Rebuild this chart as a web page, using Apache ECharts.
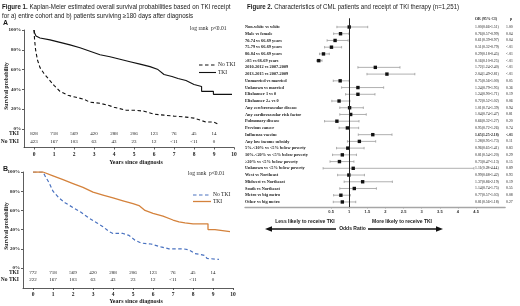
<!DOCTYPE html>
<html>
<head>
<meta charset="utf-8">
<script src="https://cdn.jsdelivr.net/npm/echarts@6/dist/echarts.min.js"></script>
<style>
html, body { margin: 0; padding: 0; background: #fff; }
#chart { width: 520px; height: 306px; }
</style>
</head>
<body>
<div id="chart"></div>
<script>
// ---- Figure 1 data (Kaplan-Meier) ----
const yearTicks = [0, 1, 2, 3, 4, 5, 6, 7, 8, 9, 10];
const riskYears = [0, 1, 2, 3, 4, 5, 6, 7, 8, 9];
const pctTicks = [0, 0.2, 0.4, 0.6, 0.8, 1];

const kmTkiA = [[0, 1], [0.03, 0.97], [0.1, 0.94], [0.3, 0.92], [0.8, 0.9], [1.3, 0.875], [1.8, 0.85], [2.3, 0.82], [2.8, 0.785], [3.3, 0.75], [3.8, 0.73], [4.3, 0.705], [4.8, 0.68], [5.3, 0.655], [5.8, 0.63], [6.2, 0.6], [6.5, 0.55], [6.9, 0.53], [7.2, 0.51], [7.6, 0.49], [7.8, 0.47], [8.0, 0.45], [8.1, 0.43], [8.38, 0.43], [8.38, 0.38], [8.97, 0.38], [8.97, 0.35], [9.9, 0.35]];
const kmNoTkiA = [[0, 1], [0.03, 0.9], [0.08, 0.8], [0.17, 0.7], [0.3, 0.62], [0.5, 0.56], [0.75, 0.5], [1.0, 0.44], [1.3, 0.38], [1.7, 0.34], [2.1, 0.32], [2.5, 0.3], [2.8, 0.27], [3.3, 0.26], [3.7, 0.24], [4.0, 0.22], [4.6, 0.19], [5.0, 0.19], [5.5, 0.18], [6.0, 0.15], [6.5, 0.14], [7.0, 0.13], [7.6, 0.12], [8.0, 0.11], [8.3, 0.09], [8.6, 0.07], [9.0, 0.07], [9.2, 0.05]];
const kmTkiB = [[0, 1], [0.5, 1], [0.6, 0.99], [1.0, 0.96], [1.5, 0.92], [2.0, 0.88], [2.5, 0.84], [3.0, 0.79], [3.5, 0.76], [4.0, 0.73], [4.5, 0.7], [5.0, 0.67], [5.3, 0.65], [5.6, 0.6], [6.0, 0.57], [6.5, 0.54], [7.0, 0.5], [7.3, 0.48], [7.6, 0.47], [8.0, 0.46], [8.75, 0.46], [8.75, 0.4], [9.1, 0.4], [9.1, 0.38], [9.85, 0.38]];
const kmNoTkiB = [[0, 1], [0.5, 1], [0.6, 0.96], [0.8, 0.89], [1.0, 0.8], [1.3, 0.73], [1.6, 0.68], [2.0, 0.63], [2.4, 0.58], [2.8, 0.52], [3.2, 0.47], [3.5, 0.43], [3.8, 0.38], [4.0, 0.36], [4.5, 0.36], [4.8, 0.34], [5.1, 0.29], [5.4, 0.26], [5.9, 0.25], [6.4, 0.22], [6.8, 0.2], [7.5, 0.2], [7.8, 0.19], [8.1, 0.15], [8.4, 0.14], [8.6, 0.13], [8.7, 0.1], [9.3, 0.09]];

const riskTkiA = ['828', '718', '569', '420', '288', '206', '123', '76', '45', '14'];
const riskNoTkiA = ['423', '167', '103', '63', '43', '23', '12', '<11', '<11', '0'];
const riskTkiB = ['772', '718', '569', '420', '288', '206', '123', '76', '45', '14'];
const riskNoTkiB = ['222', '167', '103', '63', '43', '23', '12', '<11', '<11', '0'];

// ---- Figure 2 data (forest plot) ----
const rowLabels = [
  'Non-white vs white', 'Male vs female', '70-74 vs 66-69 years', '75-79 vs 66-69 years',
  '80-84 vs 66-69 years', '\u226585 vs 66-69 years', '2010-2012 vs 2007-2009', '2013-2015 vs 2007-2009',
  'Unmarried vs married', 'Unknown vs married', 'Elixhauser 1 vs 0', 'Elixhauser 2+ vs 0',
  'Any cerebrovascular disease', 'Any cardiovascular risk factor', 'Pulmonary disease', 'Previous cancer',
  'Influenza vaccine', 'Any low income subsidy', '5%-<10% vs <5% below poverty', '10%-<20% vs <5% below poverty',
  '\u226520% vs <5% below poverty', 'Unknown vs <5% below poverty', 'West vs Northeast', 'Midwest vs Northeast',
  'South vs Northeast', 'Metro vs big metro', 'Other vs big metro'
];
const orVals = [1.00, 0.76, 0.61, 0.51, 0.29, 0.16, 1.72, 2.04, 0.75, 1.24, 1.24, 0.72, 1.01, 1.04, 0.66, 0.95, 1.65, 1.28, 0.96, 0.81, 0.73, 1.11, 0.99, 1.37, 1.14, 0.77, 0.81];
const ciLow = [0.66, 0.57, 0.39, 0.32, 0.18, 0.10, 1.24, 1.49, 0.56, 0.79, 0.90, 0.52, 0.74, 0.74, 0.32, 0.72, 1.25, 0.95, 0.65, 0.54, 0.47, 0.28, 0.68, 0.86, 0.74, 0.57, 0.56];
const ciHigh = [1.51, 0.99, 0.97, 0.79, 0.45, 0.25, 2.40, 2.81, 1.00, 1.95, 1.71, 1.02, 1.39, 1.47, 1.27, 1.26, 2.18, 1.73, 1.41, 1.20, 1.13, 4.44, 1.42, 2.19, 1.75, 1.03, 1.18];
const pVals = ['1.00', '0.04', '0.04', '<.01', '<.01', '<.01', '<.01', '<.01', '0.05', '0.36', '0.19', '0.06', '0.94', '0.81', '0.20', '0.74', '<.01', '0.11', '0.83', '0.29', '0.15', '0.89', '0.93', '0.19', '0.55', '0.08', '0.27'];
const orTicks = [0.5, 1, 1.5, 2, 2.5, 3, 3.5, 4, 4.5];
const boldRow = 17;

const serif = 'Liberation Serif';
const sans = 'Liberation Sans';
const ink = '#1a1a1a';

const chart = echarts.init(document.getElementById('chart'), null, { renderer: 'canvas' });

const fmt2 = (v) => v.toFixed(2);

function kmXAxis(grid) {
  return {
    gridIndex: grid, type: 'value', min: -0.5, max: 10,
    axisLine: { onZero: false, lineStyle: { color: '#333', width: 0.8 } },
    axisTick: { customValues: yearTicks, length: 2, lineStyle: { color: '#333', width: 0.8 } },
    axisLabel: { customValues: yearTicks, fontFamily: serif, fontWeight: 'bold', fontSize: 5.5, color: ink, margin: 4 },
    splitLine: { show: false }
  };
}
function kmYAxis(grid, min) {
  return {
    gridIndex: grid, type: 'value', min: min, max: 1,
    axisLine: { onZero: false, lineStyle: { color: '#333', width: 0.8 } },
    axisTick: { customValues: pctTicks, length: 2, lineStyle: { color: '#333', width: 0.8 } },
    axisLabel: {
      customValues: pctTicks, fontFamily: serif, fontWeight: 'bold', fontSize: 5, color: ink, margin: 3,
      formatter: (v) => Math.round(v * 100) + '%'
    },
    splitLine: { show: false }
  };
}

// text placed at data coordinates
function textSeries(axisIdx, rowY, texts, bold) {
  return {
    type: 'custom', xAxisIndex: axisIdx, yAxisIndex: axisIdx, clip: false,
    data: riskYears.map((yr, i) => [yr, rowY, i]),
    renderItem: (params, api) => {
      const p = api.coord([api.value(0), api.value(1)]);
      return {
        type: 'text', x: p[0], y: p[1],
        style: {
          text: texts[api.value(2)], font: (bold ? 'bold ' : '') + '5px ' + serif, fill: ink,
          align: 'center', verticalAlign: 'middle', textAlign: 'center', textVerticalAlign: 'middle'
        }
      };
    }
  };
}

function txt(x, y, text, font, align, extra) {
  return Object.assign({
    type: 'text', x: x, y: y, silent: true,
    style: { text: text, font: font, fill: ink, align: align || 'left', verticalAlign: 'middle', textAlign: align || 'left', textVerticalAlign: 'middle' }
  }, extra || {});
}
function richTitle(x, y, bold, rest, sx) {
  return {
    type: 'text', x: x, y: y, silent: true, scaleX: sx,
    style: {
      text: '{b|' + bold + '} ' + rest, font: '6.5px ' + sans, fill: ink,
      align: 'left', verticalAlign: 'middle', textAlign: 'left', textVerticalAlign: 'middle',
      rich: { b: { fontWeight: 'bold', fontSize: 6.5, fontFamily: sans, fill: ink } }
    }
  };
}
function seg(x1, y1, x2, y2, color, w, dash) {
  return { type: 'line', silent: true, shape: { x1, y1, x2, y2 }, style: { stroke: color, lineWidth: w, lineDash: dash || null } };
}

const orange = '#d4823c';
const blue = '#4a72c0';

const option = {
  animation: false,
  backgroundColor: '#fff',
  grid: [
    { left: 24, top: 30, width: 210, height: 117.5 },
    { left: 23, top: 172, width: 210, height: 116 },
    { left: 245, top: 18.25, width: 260.1, height: 188.75 }
  ],
  xAxis: [
    kmXAxis(0),
    kmXAxis(1),
    {
      gridIndex: 2, type: 'value', min: -1.875, max: 5.3,
      axisLine: { onZero: false, lineStyle: { color: '#a6a6a6', width: 1.4 } },
      axisTick: { customValues: orTicks, length: 1.5, lineStyle: { color: '#a6a6a6' } },
      axisLabel: { customValues: orTicks, fontFamily: sans, fontWeight: 'bold', fontSize: 4, color: '#333', margin: 3 },
      splitLine: { show: false }
    }
  ],
  yAxis: [
    kmYAxis(0, -0.187),
    kmYAxis(1, -0.208),
    {
      gridIndex: 2, type: 'value', inverse: true, min: -0.3, max: 27.75,
      axisLine: { show: false }, axisTick: { show: false }, splitLine: { show: false },
      axisLabel: {
        inside: true, margin: 0, align: 'left',
        customValues: rowLabels.map((_, i) => i + 1),
        fontFamily: serif, fontWeight: 'bold', fontSize: 4.3, color: ink,
        formatter: (v) => rowLabels[Math.round(v) - 1] || ''
      }
    }
  ],
  series: [
    { type: 'line', xAxisIndex: 0, yAxisIndex: 0, data: kmNoTkiA, symbol: 'none', lineStyle: { color: '#111', width: 1.1, type: [3.5, 2.5] } },
    { type: 'line', xAxisIndex: 0, yAxisIndex: 0, data: kmTkiA, symbol: 'none', lineStyle: { color: '#111', width: 1.1 } },
    { type: 'line', xAxisIndex: 1, yAxisIndex: 1, data: kmNoTkiB, symbol: 'none', lineStyle: { color: blue, width: 1.2, type: [3.5, 2.5] } },
    { type: 'line', xAxisIndex: 1, yAxisIndex: 1, data: kmTkiB, symbol: 'none', lineStyle: { color: orange, width: 1.3 } },
    textSeries(0, -0.05, riskTkiA),
    textSeries(0, -0.13, riskNoTkiA),
    textSeries(1, -0.052, riskTkiB),
    textSeries(1, -0.125, riskNoTkiB),
    {
      type: 'custom', xAxisIndex: 2, yAxisIndex: 2, clip: false,
      data: orVals.map((v, i) => [v, ciLow[i], ciHigh[i], i + 1]),
      encode: { x: [0, 1, 2], y: 3 },
      renderItem: (params, api) => {
        const y = api.coord([0, api.value(3)])[1];
        const xo = api.coord([api.value(0), 0])[0];
        const xl = api.coord([api.value(1), 0])[0];
        const xh = api.coord([api.value(2), 0])[0];
        const g = '#9c9c9c';
        return {
          type: 'group', children: [
            { type: 'line', shape: { x1: xl, y1: y, x2: xh, y2: y }, style: { stroke: g, lineWidth: 0.8 } },
            { type: 'line', shape: { x1: xl, y1: y - 1.2, x2: xl, y2: y + 1.2 }, style: { stroke: g, lineWidth: 0.8 } },
            { type: 'line', shape: { x1: xh, y1: y - 1.2, x2: xh, y2: y + 1.2 }, style: { stroke: g, lineWidth: 0.8 } },
            { type: 'rect', shape: { x: xo - 1.7, y: y - 1.7, width: 3.4, height: 3.4 }, style: { fill: '#111' } }
          ]
        };
      },
      markLine: {
        silent: true, symbol: 'none', label: { show: false },
        lineStyle: { color: '#222', width: 1, type: 'solid' },
        data: [{ xAxis: 1 }]
      }
    },
    {
      type: 'custom', xAxisIndex: 2, yAxisIndex: 2, clip: false,
      data: orVals.map((v, i) => [v, i + 1]),
      encode: { y: 1 },
      renderItem: (params, api) => {
        const i = params.dataIndex;
        const y = api.coord([0, api.value(1)])[1];
        const cs = params.coordSys;
        const f = (i + 1 === boldRow ? 'bold ' : '') + '3.8px ' + serif;
        const label = fmt2(orVals[i]) + '(' + fmt2(ciLow[i]) + '-' + fmt2(ciHigh[i]) + ')';
        return {
          type: 'group', children: [
            { type: 'text', x: cs.x + cs.width - 30, y: y, style: { text: label, font: f, fill: ink, align: 'left', verticalAlign: 'middle', textAlign: 'left', textVerticalAlign: 'middle' } },
            { type: 'text', x: cs.x + cs.width + 1, y: y, style: { text: pVals[i], font: f, fill: ink, align: 'left', verticalAlign: 'middle', textAlign: 'left', textVerticalAlign: 'middle' } }
          ]
        };
      }
    }
  ],
  graphic: [
    // Figure 1 header
    richTitle(2, 7, 'Figure 1.', 'Kaplan-Meier estimated overall survival probabilities based on TKI receipt', 0.95),
    txt(2, 16.5, 'for a) entire cohort and b) patients surviving \u2265180 days after diagnosis', '6.5px ' + sans, 'left', { scaleX: 0.95 }),
    txt(3, 23, 'A', 'bold 7px ' + sans),
    txt(3, 169, 'B', 'bold 7px ' + sans),
    // y titles
    txt(7, 86, 'Survival probability', 'bold 5.5px ' + serif, 'center', { rotation: Math.PI / 2 }),
    txt(7, 226, 'Survival probability', 'bold 5.5px ' + serif, 'center', { rotation: Math.PI / 2 }),
    // x titles
    txt(136, 162.5, 'Years since diagnosis', 'bold 6px ' + serif, 'center'),
    txt(136, 301.5, 'Years since diagnosis', 'bold 6px ' + serif, 'center'),
    // risk row labels
    txt(19, 134, 'TKI', 'bold 5.5px ' + serif, 'right'),
    txt(19, 142, 'No TKI', 'bold 5.5px ' + serif, 'right'),
    txt(19, 273, 'TKI', 'bold 5.5px ' + serif, 'right'),
    txt(19, 280, 'No TKI', 'bold 5.5px ' + serif, 'right'),
    // log rank
    txt(190, 29, 'log rank  p<0.01', '5.5px ' + serif),
    txt(188, 173.5, 'log rank  p<0.01', '5.5px ' + serif),
    // legends
    seg(199, 65, 216, 65, '#111', 1.1, [3.5, 2.5]),
    txt(218, 65, 'No TKI', '5.5px ' + serif),
    seg(199, 72.5, 216, 72.5, '#111', 1.1),
    txt(218, 72.5, 'TKI', '5.5px ' + serif),
    seg(193, 195, 211, 195, blue, 1.2, [3.5, 2.5]),
    txt(213, 195, 'No TKI', '5.5px ' + serif),
    seg(193, 201.5, 211, 201.5, orange, 1.3),
    txt(213, 201.5, 'TKI', '5.5px ' + serif),
    // Figure 2 header
    richTitle(247, 7, 'Figure 2.', 'Characteristics of CML patients and receipt of TKI therapy (n=1,251)', 0.94),
    txt(475, 19.5, 'OR (95% CI)', 'bold 3.8px ' + serif),
    txt(510, 19.5, 'p', 'bold 3.8px ' + serif),
    // bottom annotations
    txt(305, 222, 'Less likely to receive TKI', 'bold 5px ' + sans, 'center'),
    txt(402, 222, 'More likely to receive TKI', 'bold 5px ' + sans, 'center'),
    txt(352.5, 229, 'Odds Ratio', 'bold 5px ' + sans, 'center'),
    seg(270, 229, 336, 229, '#111', 1.6),
    { type: 'polygon', silent: true, shape: { points: [[265, 229], [272, 226.3], [272, 231.7]] }, style: { fill: '#111' } },
    seg(368, 229, 437, 229, '#111', 1.6),
    { type: 'polygon', silent: true, shape: { points: [[443, 229], [436, 226.3], [436, 231.7]] }, style: { fill: '#111' } }
  ]
};

chart.setOption(option);
</script>
</body>
</html>
